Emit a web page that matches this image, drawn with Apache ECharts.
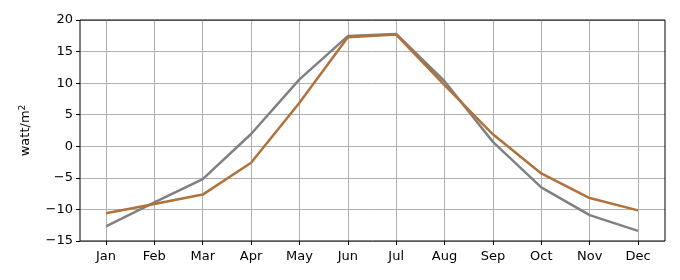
<!DOCTYPE html>
<html><head><meta charset="utf-8">
<script src="https://cdn.jsdelivr.net/npm/echarts@6/dist/echarts.min.js"></script>
<style>html,body{margin:0;padding:0;background:#fff}#c{width:680px;height:280px}</style>
</head><body><div id="c"></div>
<script>
const months = ['Jan','Feb','Mar','Apr','May','Jun','Jul','Aug','Sep','Oct','Nov','Dec'];
const graySeries = [-12.7, -8.9, -5.2, 1.95, 10.6, 17.45, 17.8, 10.3, 0.7, -6.5, -10.9, -13.4];
const brownSeries = [-10.6, -9.15, -7.65, -2.6, 6.9, 17.25, 17.7, 9.7, 1.9, -4.3, -8.2, -10.15];
const yTicks = {min: -15, max: 20, interval: 5};

const chart = echarts.init(document.getElementById('c'), null, {renderer: 'canvas'});
const font = 'DejaVu Sans';
chart.setOption({
  animation: false,
  backgroundColor: '#fff',
  grid: [
    {left: 80, right: 15, top: 20, bottom: 39, show: true, borderColor: '#000', borderWidth: 1, backgroundColor: 'transparent', z: 10},
    {left: 106, right: 42, top: 20, bottom: 39}
  ],
  xAxis: [
    {gridIndex: 0, type: 'value', min: 0, max: 1, show: false},
    {gridIndex: 1, type: 'category', data: months, boundaryGap: false, position: 'bottom',
      axisLine: {show: false, onZero: false},
      axisTick: {show: true, length: 4, lineStyle: {color: '#000', width: 1}, alignWithLabel: true},
      axisLabel: {color: '#000', fontFamily: font, fontSize: 13, margin: 9},
      splitLine: {show: true, lineStyle: {color: '#b0b0b0', width: 1}}
    }
  ],
  yAxis: [
    {gridIndex: 0, type: 'value', min: yTicks.min, max: yTicks.max, interval: yTicks.interval,
      axisLine: {show: false},
      axisTick: {show: true, length: 4, lineStyle: {color: '#000', width: 1}},
      axisLabel: {color: '#000', fontFamily: font, fontSize: 13, margin: 7,
        formatter: v => (v < 0 ? '\u2212' + Math.abs(v) : String(v))},
      splitLine: {show: true, lineStyle: {color: '#b0b0b0', width: 1}},
      name: '{a|watt/m}{s|2}', nameLocation: 'middle', nameGap: 47, nameRotate: 90,
      nameTextStyle: {rich: {
        a: {fontFamily: font, fontSize: 13, color: '#000'},
        s: {fontFamily: font, fontSize: 9, color: '#000', verticalAlign: 'top', padding: [0,0,6,0]}
      }}
    },
    {gridIndex: 1, type: 'value', min: yTicks.min, max: yTicks.max, show: false}
  ],
  series: [
    {type: 'line', xAxisIndex: 1, yAxisIndex: 1, data: graySeries, showSymbol: false,
      lineStyle: {color: '#808080', width: 2.5}, z: 3},
    {type: 'line', xAxisIndex: 1, yAxisIndex: 1, data: brownSeries, showSymbol: false,
      lineStyle: {color: '#b0723a', width: 2.5}, z: 4}
  ]
});
</script></body></html>
